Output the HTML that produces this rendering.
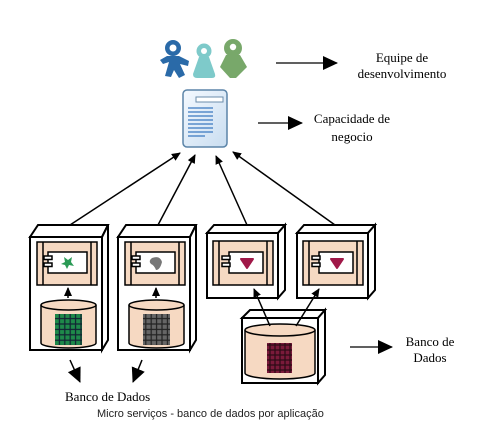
<!DOCTYPE html>
<html><head><meta charset="utf-8"><style>
html,body{margin:0;padding:0;background:#fff;}
svg{display:block;}
.s{font-family:"Liberation Serif",serif;font-size:13px;fill:#000;}
</style></head><body>
<svg width="496" height="432" viewBox="0 0 496 432" xmlns="http://www.w3.org/2000/svg">
<defs>
<marker id="ah" markerWidth="10" markerHeight="10" refX="8" refY="5" orient="auto" markerUnits="userSpaceOnUse">
<path d="M0,1 L9,5 L0,9 z" fill="#000"/></marker>
<marker id="bh" markerWidth="16" markerHeight="14" refX="14" refY="7" orient="auto" markerUnits="userSpaceOnUse">
<path d="M0,0 L15,7 L0,14 z" fill="#000"/></marker>
<linearGradient id="dg" x1="0" y1="0" x2="1" y2="1"><stop offset="0" stop-color="#f4f9ff"/><stop offset="1" stop-color="#c9ddf0"/></linearGradient>
<pattern id="gg" width="5.4" height="5.4" patternUnits="userSpaceOnUse"><rect width="5.4" height="5.4" fill="#123"/><rect x="0.6" y="0.6" width="4.2" height="4.2" fill="#1e8a4a"/></pattern>
<pattern id="gk" width="5.4" height="5.4" patternUnits="userSpaceOnUse"><rect width="5.4" height="5.4" fill="#222"/><rect x="0.6" y="0.6" width="4.2" height="4.2" fill="#666"/></pattern>
<pattern id="gr" width="5" height="5" patternUnits="userSpaceOnUse"><rect width="5" height="5" fill="#2a0a14"/><rect x="0.6" y="0.6" width="3.8" height="3.8" fill="#7a1a3a"/></pattern>
</defs>

<!-- people -->
<g>
<circle cx="173" cy="48" r="8" fill="#2a6aa8"/><circle cx="173" cy="48" r="3.5" fill="#fff"/>
<path d="M167,56 L160,60 L163,64 L169,62 L165,76 L171,77 L174,70 L179,78 L185,75 L180,64 L188,66 L189,61 L179,56 z" fill="#2a6aa8"/>
<circle cx="204" cy="51" r="7.5" fill="#7ecaca"/><circle cx="204" cy="51" r="3" fill="#fff"/>
<path d="M199,57 L193,74 Q193,78 197,78 L212,78 Q216,78 215,74 L209,57 z" fill="#7ecaca"/>
<circle cx="233" cy="48" r="9" fill="#78a86a"/><circle cx="233" cy="47" r="3.2" fill="#fff"/>
<path d="M226,55 L220,67 L230,78 L236,78 L247,67 L240,55 z" fill="#78a86a"/>
</g>

<!-- doc -->
<rect x="183" y="90" width="44" height="57" rx="4" fill="url(#dg)" stroke="#5b84a8" stroke-width="1.5"/>
<rect x="196" y="97" width="27" height="5" fill="#fff" stroke="#6b8cab" stroke-width="1"/>
<g stroke="#3a78c0" stroke-width="1.3">
<line x1="188" y1="108" x2="213" y2="108"/><line x1="188" y1="112" x2="213" y2="112"/><line x1="188" y1="116" x2="213" y2="116"/><line x1="188" y1="120" x2="213" y2="120"/><line x1="188" y1="124" x2="213" y2="124"/><line x1="188" y1="128" x2="213" y2="128"/><line x1="188" y1="132" x2="213" y2="132"/><line x1="188" y1="136" x2="205" y2="136"/></g>

<!-- right labels -->
<line x1="276" y1="63" x2="337" y2="63" stroke="#000" stroke-width="1.3" marker-end="url(#bh)"/>
<text class="s" x="402" y="62" text-anchor="middle">Equipe de</text>
<text class="s" x="402" y="78" text-anchor="middle">desenvolvimento</text>
<line x1="258" y1="123" x2="302" y2="123" stroke="#000" stroke-width="1.3" marker-end="url(#bh)"/>
<text class="s" x="352" y="123" text-anchor="middle">Capacidade de</text>
<text class="s" x="352" y="141" text-anchor="middle">negocio</text>
<line x1="350" y1="347" x2="392" y2="347" stroke="#000" stroke-width="1.3" marker-end="url(#bh)"/>
<text class="s" x="430" y="346" text-anchor="middle">Banco de</text>
<text class="s" x="430" y="362" text-anchor="middle">Dados</text>

<!-- arrows to doc -->
<g stroke="#000" stroke-width="1.5" fill="none">
<line x1="70" y1="225" x2="180" y2="153" marker-end="url(#ah)"/>
<line x1="158" y1="225" x2="195" y2="155" marker-end="url(#ah)"/>
<line x1="247" y1="225" x2="216" y2="156" marker-end="url(#ah)"/>
<line x1="335" y1="225" x2="233" y2="152" marker-end="url(#ah)"/>
</g>

<!-- Box template -->
<g stroke="#000" stroke-width="2" fill="#fff">
<!-- box1 -->
<path d="M30,237 L38,225 L108,225 L102,237 z"/><path d="M102,237 L108,225 L108,340 L102,350 z"/><rect x="30" y="237" width="72" height="113"/>
<!-- box2 -->
<path d="M118,237 L126,225 L196,225 L190,237 z"/><path d="M190,237 L196,225 L196,340 L190,350 z"/><rect x="118" y="237" width="72" height="113"/>
<!-- box3 -->
<path d="M207,233 L214,225 L285,225 L278,233 z"/><path d="M278,233 L285,225 L285,290 L278,298 z"/><rect x="207" y="233" width="71" height="65"/>
<!-- box4 -->
<path d="M297,233 L304,225 L375,225 L368,233 z"/><path d="M368,233 L375,225 L375,290 L368,298 z"/><rect x="297" y="233" width="71" height="65"/>
<!-- box5 -->
<path d="M242,318 L250,310 L325,310 L318,318 z"/><path d="M318,318 L325,310 L325,375 L318,383 z"/><rect x="242" y="318" width="76" height="65"/>
</g>

<!-- panels -->
<g stroke="#000" stroke-width="1.5">
<g id="p1"><rect x="37" y="242" width="60" height="43" fill="#f6d9c2"/><line x1="43" y1="242" x2="43" y2="285"/><line x1="91" y1="242" x2="91" y2="285"/><rect x="48" y="252" width="39" height="21" fill="#fff"/><rect x="44" y="256" width="8" height="3.5" fill="#fff"/><rect x="44" y="263" width="8" height="3.5" fill="#fff"/></g>
<g><rect x="125" y="242" width="60" height="43" fill="#f6d9c2"/><line x1="131" y1="242" x2="131" y2="285"/><line x1="179" y1="242" x2="179" y2="285"/><rect x="136" y="252" width="39" height="21" fill="#fff"/><rect x="132" y="256" width="8" height="3.5" fill="#fff"/><rect x="132" y="263" width="8" height="3.5" fill="#fff"/></g>
<g><rect x="213" y="241" width="60" height="44" fill="#f6d9c2"/><line x1="219" y1="241" x2="219" y2="285"/><line x1="267" y1="241" x2="267" y2="285"/><rect x="229" y="252" width="34" height="21" fill="#fff"/><rect x="222" y="256" width="8" height="3.5" fill="#fff"/><rect x="222" y="263" width="8" height="3.5" fill="#fff"/></g>
<g><rect x="303" y="241" width="60" height="44" fill="#f6d9c2"/><line x1="309" y1="241" x2="309" y2="285"/><line x1="357" y1="241" x2="357" y2="285"/><rect x="319" y="252" width="34" height="21" fill="#fff"/><rect x="312" y="256" width="8" height="3.5" fill="#fff"/><rect x="312" y="263" width="8" height="3.5" fill="#fff"/></g>
</g>
<!-- icons in panels -->
<path d="M64,257 L68,260 L72,257 L71,262 L74,266 L69,265 L67,269 L65,265 L61,264 L65,262 z" fill="#2a9a55"/>
<path d="M152,258 Q160,255 162,262 Q160,270 156,270 Q154,265 151,264 Q148,261 152,258 z" fill="#777"/>
<path d="M241,259 L253,259 L247,268 z" fill="#a01848" stroke="#a01848" stroke-width="2" stroke-linejoin="round"/>
<path d="M331,259 L343,259 L337,268 z" fill="#a01848" stroke="#a01848" stroke-width="2" stroke-linejoin="round"/>

<!-- cylinders -->
<g stroke="#000" stroke-width="1.5" fill="#f6d9c2">
<path d="M41,305 L41,343 A27.5,5 0 0 0 96,343 L96,305"/><ellipse cx="68.5" cy="305" rx="27.5" ry="5"/>
<path d="M129,305 L129,343 A27.5,5 0 0 0 184,343 L184,305"/><ellipse cx="156.5" cy="305" rx="27.5" ry="5"/>
<path d="M245,330 L245,373 A35,6 0 0 0 315,373 L315,330"/><ellipse cx="280" cy="330" rx="35" ry="6"/>
</g>
<rect x="55" y="314" width="27" height="31" fill="url(#gg)"/>
<rect x="143" y="314" width="27" height="31" fill="url(#gk)"/>
<rect x="267" y="343" width="25" height="30" fill="url(#gr)"/>

<!-- inner arrows -->
<g stroke="#000" stroke-width="1.5">
<line x1="68" y1="298" x2="68" y2="288" marker-end="url(#ah)"/>
<line x1="156" y1="298" x2="156" y2="288" marker-end="url(#ah)"/>
<line x1="270" y1="326" x2="254" y2="289" marker-end="url(#ah)"/>
<line x1="296" y1="326" x2="319" y2="289" marker-end="url(#ah)"/>
<line x1="70" y1="360" x2="80" y2="382" marker-end="url(#bh)"/>
<line x1="142" y1="360" x2="133" y2="382" marker-end="url(#bh)"/>
</g>

<text class="s" x="65" y="401">Banco de Dados</text>
<text x="97" y="417" font-family="Liberation Sans, sans-serif" font-size="11" fill="#222">Micro serviços - banco de dados por aplicação</text>
</svg>
</body></html>
